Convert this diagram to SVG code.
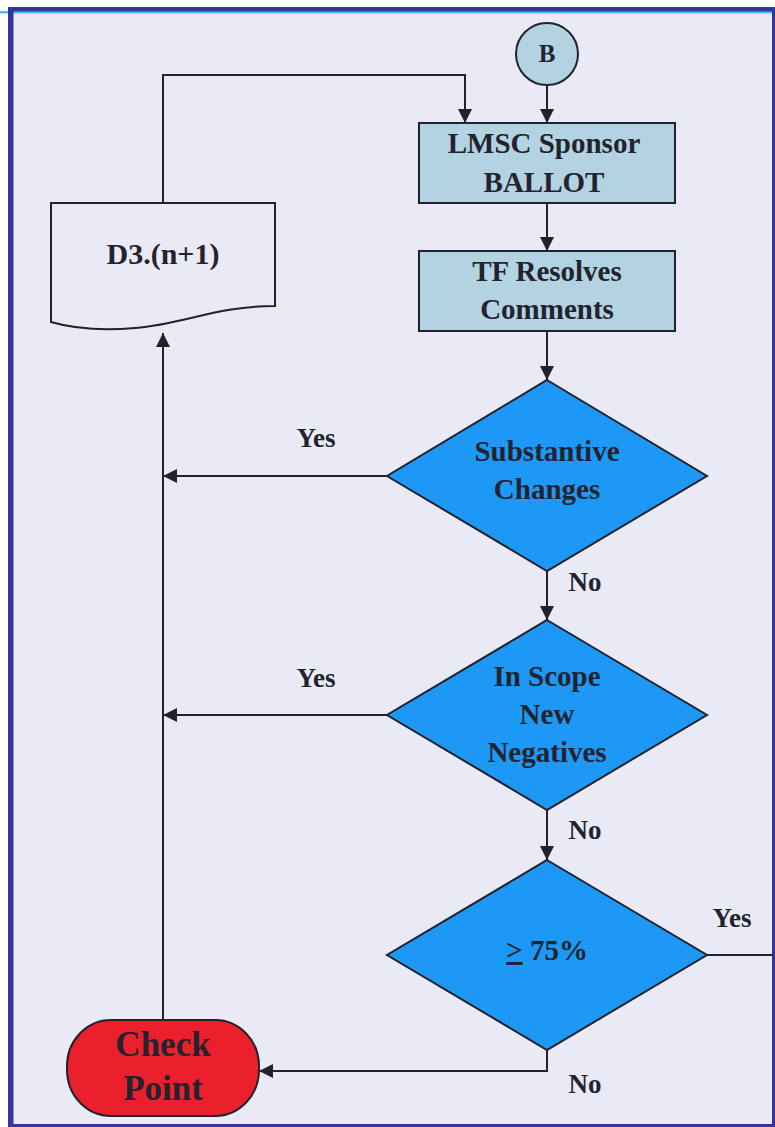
<svg xmlns="http://www.w3.org/2000/svg" width="775" height="1127" viewBox="0 0 775 1127">
<defs>
<style>
.ln{fill:none;stroke:#22222e;stroke-width:2}
.sh{stroke:#22222e;stroke-width:2}
.box{fill:#b4d3e2}
.dia{fill:#1e98f5}
.t{font-family:"Liberation Serif",serif;font-weight:bold;fill:#23232f;text-anchor:middle}
.nt{font-size:29px}
.lb{font-size:27px}
</style>
<marker id="ah" viewBox="0 0 12 14" refX="14" refY="7" markerWidth="14" markerHeight="14" markerUnits="userSpaceOnUse" orient="auto">
<path d="M0,0 L14,7 L0,14 Z" fill="#22222e"/>
</marker>
</defs>
<rect x="0" y="0" width="775" height="1127" fill="#ffffff"/>
<rect x="8" y="7" width="767" height="1120" fill="#eaeaf6"/>
<rect x="0" y="11" width="775" height="2.5" fill="#4cc0ec"/>
<rect x="8" y="7" width="767" height="4.5" fill="#3535a0"/>
<rect x="8" y="7" width="5.5" height="1120" fill="#3535a0"/>
<rect x="772" y="7" width="3" height="1120" fill="#3535a0"/>
<rect x="8" y="1124" width="767" height="3" fill="#3535a0"/>

<g id="connectors">
<path class="ln" d="M547,85 V123" marker-end="url(#ah)"/>
<path class="ln" d="M163,203 V75 H465 V123" marker-end="url(#ah)"/>
<path class="ln" d="M547,203 V251" marker-end="url(#ah)"/>
<path class="ln" d="M547,331 V380" marker-end="url(#ah)"/>
<path class="ln" d="M387,476 H163" marker-end="url(#ah)"/>
<path class="ln" d="M547,571 V620" marker-end="url(#ah)"/>
<path class="ln" d="M387,715 H163" marker-end="url(#ah)"/>
<path class="ln" d="M547,810 V860" marker-end="url(#ah)"/>
<path class="ln" d="M707,955 H773"/>
<path class="ln" d="M547,1050 V1071 H259" marker-end="url(#ah)"/>
<path class="ln" d="M163,1020 V333" marker-end="url(#ah)"/>
<text class="t lb" x="316" y="447">Yes</text>
<text class="t lb" x="316" y="687">Yes</text>
<text class="t lb" x="585" y="591">No</text>
<text class="t lb" x="585" y="839">No</text>
<text class="t lb" x="732" y="927">Yes</text>
<text class="t lb" x="585" y="1093">No</text>
</g>

<g id="nodeB">
<circle cx="547" cy="54" r="31" class="box sh"/>
<text class="t" style="font-size:25px" x="547" y="62">B</text>
</g>

<g id="nodeLMSC">
<rect x="419" y="123" width="256" height="80" class="box sh"/>
<text class="t nt" x="544" y="153">LMSC Sponsor</text>
<text class="t nt" x="544" y="192">BALLOT</text>
</g>

<g id="nodeTF">
<rect x="419" y="251" width="256" height="80" class="box sh"/>
<text class="t nt" x="547" y="281">TF Resolves</text>
<text class="t nt" x="547" y="319">Comments</text>
</g>

<g id="nodeSubst">
<path d="M547,380 L707,476 L547,571 L387,476 Z" class="dia sh"/>
<text class="t nt" x="547" y="461">Substantive</text>
<text class="t nt" x="547" y="499">Changes</text>
</g>

<g id="nodeScope">
<path d="M547,620 L707,715 L547,810 L387,715 Z" class="dia sh"/>
<text class="t nt" x="547" y="686">In Scope</text>
<text class="t nt" x="547" y="724">New</text>
<text class="t nt" x="547" y="762">Negatives</text>
</g>

<g id="node75">
<path d="M547,860 L707,955 L547,1050 L387,955 Z" class="dia sh"/>
<text class="t nt" x="547" y="960"><tspan text-decoration="underline">&gt;</tspan> 75%</text>
</g>

<g id="nodeDoc">
<path d="M51,203 H275 V306 C215,306 185,324 135,328 C100,331 75,329 51,322 Z" fill="#eaeaf6" class="sh"/>
<text class="t" style="font-size:30px" x="163" y="264">D3.(n+1)</text>
</g>

<g id="nodeCheck">
<rect x="67" y="1020" width="192" height="96" rx="44" ry="46" fill="#ec1f2d" class="sh"/>
<text class="t" style="font-size:35px" x="163" y="1056">Check</text>
<text class="t" style="font-size:35px" x="163" y="1100">Point</text>
</g>
</svg>
